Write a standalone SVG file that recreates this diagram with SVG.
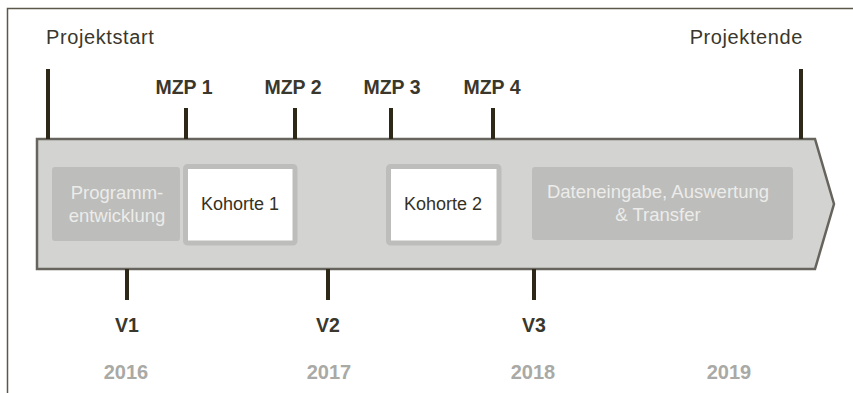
<svg xmlns="http://www.w3.org/2000/svg" width="853" height="393" viewBox="0 0 853 393">
<style>
.t{font-family:"Liberation Sans",Arial,sans-serif;}
.lbl{font-size:20px;letter-spacing:0.6px;fill:#3a372c;}
.mzp{font-size:19.5px;font-weight:bold;fill:#3a372c;text-anchor:middle;}
.yr{font-size:20px;font-weight:bold;fill:#a9a9a5;text-anchor:middle;}
.box{fill:#bdbdbb;}
.boxtxt{font-size:18.5px;fill:#ececea;text-anchor:middle;}
.koh{fill:#ffffff;stroke:#bdbdbb;stroke-width:5;}
.kohtxt{font-size:18px;fill:#35311f;text-anchor:middle;}
.tick{stroke:#2e2818;stroke-width:4;}
</style>
<rect width="853" height="393" fill="#ffffff"/>
<g id="frame" fill="none" stroke="#5b584b" stroke-width="1.5">
<path d="M7.5 393 V8.5 H853"/>
</g>
<g id="timeline">
<polygon points="37,139 815,139 834,204 815,269 37,269" fill="#d3d3d1" stroke="#66645c" stroke-width="2.5" stroke-linejoin="miter"/>
</g>
<g id="connectors">
<line class="tick" x1="48" y1="69" x2="48" y2="139"/>
<line class="tick" x1="186" y1="108" x2="186" y2="139"/>
<line class="tick" x1="295" y1="108" x2="295" y2="139"/>
<line class="tick" x1="391" y1="108" x2="391" y2="139"/>
<line class="tick" x1="493" y1="108" x2="493" y2="139"/>
<line class="tick" x1="801" y1="69" x2="801" y2="139"/>
<line class="tick" x1="127" y1="269" x2="127" y2="300"/>
<line class="tick" x1="328" y1="269" x2="328" y2="300"/>
<line class="tick" x1="534" y1="269" x2="534" y2="300"/>
</g>
<g id="projektstart"><text class="t lbl" x="46" y="44">Projektstart</text></g>
<g id="projektende"><text class="t lbl" x="803" y="44" text-anchor="end">Projektende</text></g>
<g id="mzp1"><text class="t mzp" x="184" y="94">MZP 1</text></g>
<g id="mzp2"><text class="t mzp" x="293" y="94">MZP 2</text></g>
<g id="mzp3"><text class="t mzp" x="392" y="94">MZP 3</text></g>
<g id="mzp4"><text class="t mzp" x="492" y="94">MZP 4</text></g>
<g id="programmentwicklung">
<rect class="box" x="52" y="167" width="128" height="74" rx="3"/>
<text class="t boxtxt" x="117" y="199">Programm-</text>
<text class="t boxtxt" x="117" y="222">entwicklung</text>
</g>
<g id="kohorte1">
<rect class="koh" x="185.5" y="166.5" width="109.5" height="76.5" rx="2"/>
<text class="t kohtxt" x="240" y="210">Kohorte 1</text>
</g>
<g id="kohorte2">
<rect class="koh" x="388.5" y="166.5" width="110.5" height="76.5" rx="2"/>
<text class="t kohtxt" x="443" y="210">Kohorte 2</text>
</g>
<g id="dateneingabe">
<rect class="box" x="532" y="167" width="261" height="73" rx="3"/>
<text class="t boxtxt" x="658" y="198">Dateneingabe, Auswertung</text>
<text class="t boxtxt" x="658" y="221">&amp; Transfer</text>
</g>
<g id="v1"><text class="t mzp" x="127" y="332">V1</text></g>
<g id="v2"><text class="t mzp" x="328" y="332">V2</text></g>
<g id="v3"><text class="t mzp" x="534" y="332">V3</text></g>
<g id="y2016"><text class="t yr" x="126" y="379">2016</text></g>
<g id="y2017"><text class="t yr" x="329" y="379">2017</text></g>
<g id="y2018"><text class="t yr" x="533" y="379">2018</text></g>
<g id="y2019"><text class="t yr" x="729" y="379">2019</text></g>
</svg>
